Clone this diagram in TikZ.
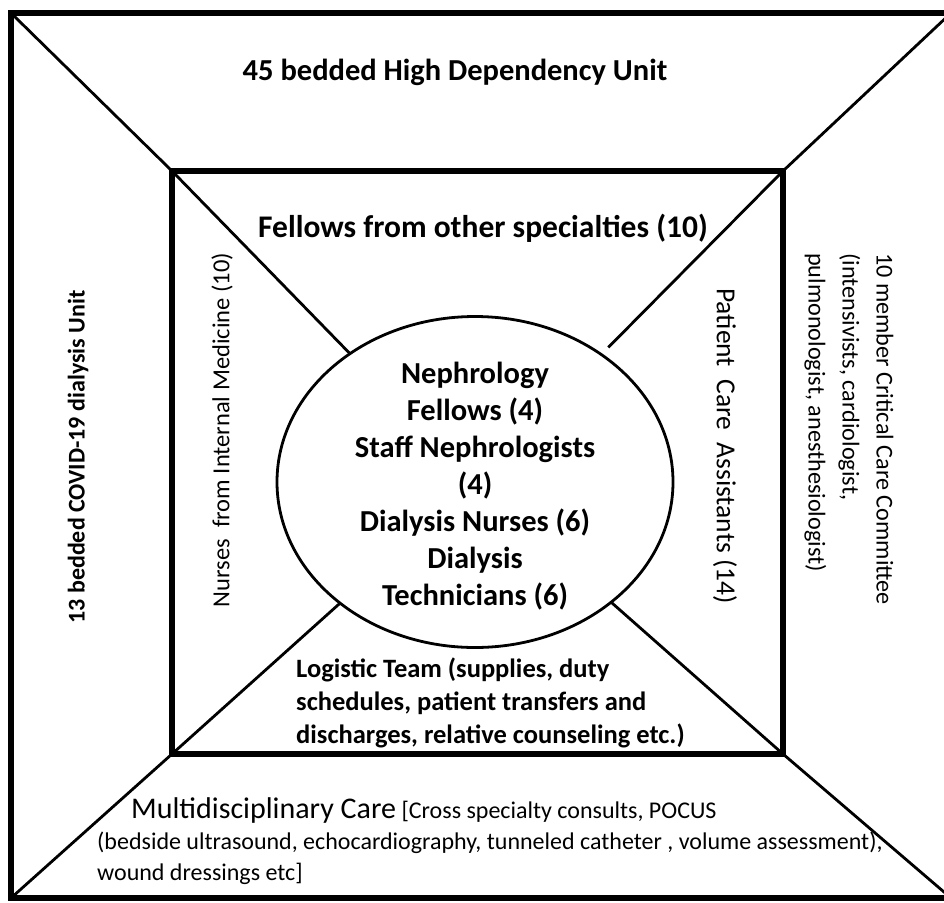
\documentclass[tikz,border=0pt]{standalone}
\usepackage{fontspec}
\setmainfont{Carlito}
\usetikzlibrary{shapes.geometric, positioning}
\newcommand{\txtsize}[2]{\fontsize{#1}{#2}\selectfont}

\begin{document}
\begin{tikzpicture}[x=1pt, y=-1pt,
    frame/.style={draw, line width=6pt, outer sep=0pt, inner sep=0pt},
    spoke/.style={line width=2.8pt},
    unit/.style={inner sep=0pt, align=center},
    ]
    \useasboundingbox (0,0) rectangle (944,902);

    % outer frame, inner frame and central ellipse
    \node[frame, line width=6.5pt, minimum width=940pt, minimum height=885pt] (outer) at (481,455.5) {};
    \node[frame, minimum width=611pt, minimum height=583pt] (inner) at (477.5,462.5) {};
    \node[frame, ellipse, line width=2.8pt, minimum width=396pt, minimum height=331pt] (core) at (475,482) {};

    % spokes between the frames
    \foreach \c in {north west, north east, south west, south east}
        \draw[spoke] (outer.\c) -- (inner.\c);

    % spokes into the ellipse
    \draw[spoke] (inner.north west) -- (core);
    \draw[spoke, shorten >=10pt] (inner.north east) -- (core);
    \draw[spoke] (inner.south west) -- (core);
    \draw[spoke] (inner.south east) -- (core);

    % outer ring
    \node[unit, font=\txtsize{30.5}{36}\bfseries] (hdu) at (455,72) {45 bedded High Dependency Unit};
    \node[unit, rotate=90, font=\txtsize{24}{28}\bfseries] (dialysis) at (78,457) {13 bedded COVID-19 dialysis Unit};
    \node[unit, rotate=-90, anchor=west, align=left, font=\txtsize{24.2}{34}] (committee) at (849,253)
        {10 member Critical Care Committee\\(intensivists, cardiologist,\\pulmonologist, anesthesiologist)};
    \node[unit, anchor=west, align=left, font=\txtsize{24}{31}] (multi) at (97,841)
        {\hspace*{34pt}{\txtsize{30}{31}Multidisciplinary Care} [Cross specialty consults, POCUS\\
         (bedside ultrasound, echocardiography, tunneled catheter , volume assessment),\\
         wound dressings etc]};

    % inner ring
    \node[unit, font=\txtsize{31.5}{36}\bfseries] (fellows) at (483,228) {Fellows from other specialties (10)};
    \node[unit, rotate=90, font=\txtsize{24.5}{28}] (nurses) at (222,430) {Nurses~ from Internal Medicine (10)};
    \node[unit, rotate=-90, font=\txtsize{27.5}{32}] (assist) at (725,446) {Patient~ Care~ Assistants (14)};
    \node[unit, anchor=west, align=left, font=\txtsize{26.5}{33}\bfseries] (logistic) at (296,703)
        {Logistic Team (supplies, duty\\schedules, patient transfers and\\discharges, relative counseling etc.)};

    % nephrology team (centre)
    \node[unit, font=\txtsize{30.5}{37}\bfseries] (team) at (475,486)
        {Nephrology\\Fellows (4)\\Staff Nephrologists\\(4)\\Dialysis Nurses (6)\\Dialysis\\Technicians (6)};
\end{tikzpicture}
\end{document}
